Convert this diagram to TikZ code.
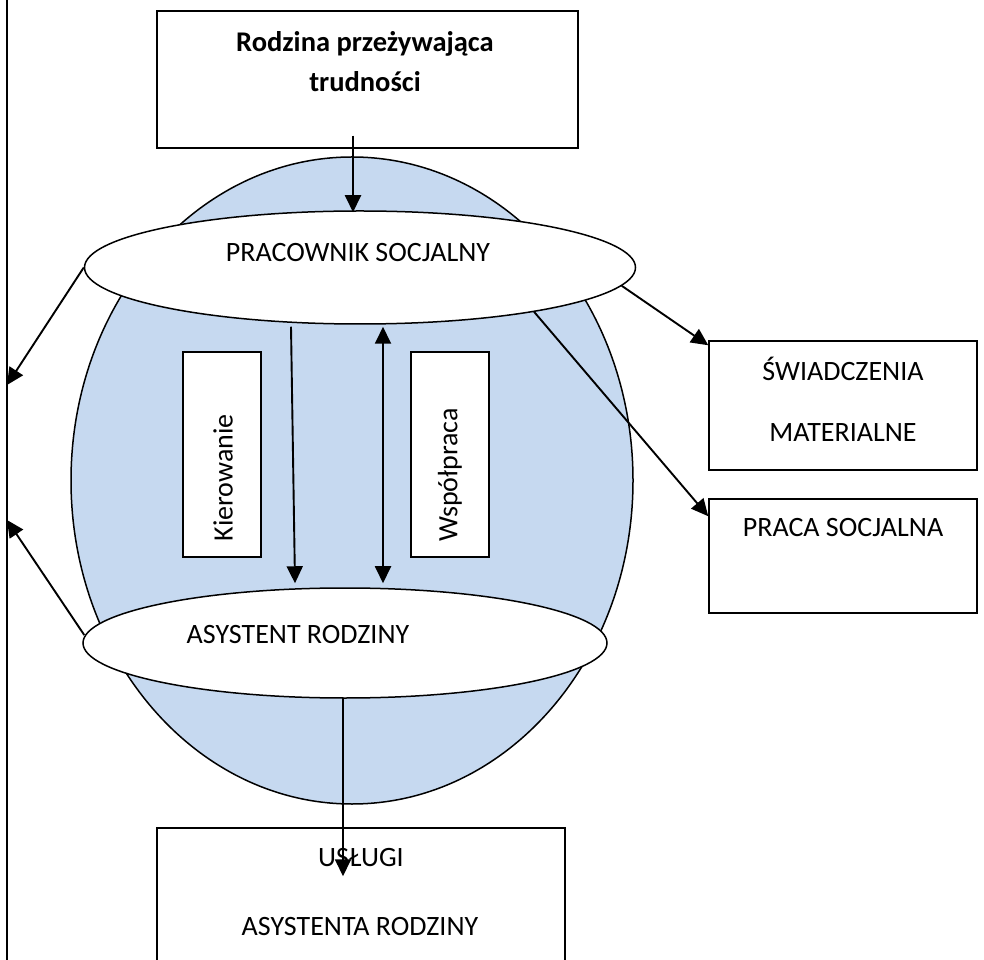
\documentclass[tikz,border=0pt]{standalone}
\usepackage{fontspec}
\setmainfont{Carlito}
\usetikzlibrary{arrows.meta,calc,shapes.geometric}
\definecolor{circblue}{RGB}{198,217,240}
\begin{document}
\begin{tikzpicture}[x=1pt,y=1pt,
  plain/.style={line width=1.6pt},
  arr/.style={line width=1.9pt,-{Triangle[length=17pt,width=16pt]}},
  darr/.style={line width=1.9pt,{Triangle[length=17pt,width=16pt]}-{Triangle[length=17pt,width=16pt]}},
  boxn/.style={draw,line width=1.5pt,fill=white,inner sep=0pt},
  ell/.style={draw,ellipse,line width=1.5pt,fill=white,inner sep=0pt},
  txt/.style={font=\fontsize{28}{33}\selectfont,inner sep=0pt}]
\useasboundingbox (0,0) rectangle (984,959);
% left vertical line
\coordinate (LT) at (7,962);
\coordinate (LB) at (7,-3);
\draw[plain] (LT) -- (LB);
% big circle
\node[ell, fill=circblue, minimum width=562, minimum height=647] (circ) at (352,478.5) {};
% top box
\node[boxn, minimum width=421, minimum height=137] (rodzina) at (367.5,879.5) {};
\node[txt, font=\fontsize{28.5}{40}\selectfont\bfseries, align=center] (rodzinat) at (365,897) {Rodzina przeżywająca\\trudności};
% ellipses
\node[ell, minimum width=551, minimum height=113] (pracownik) at (360,691.5) {};
\node[txt] (pracownikt) at (358,706) {PRACOWNIK SOCJALNY};
\node[ell, minimum width=524, minimum height=110] (asystent) at (345,316) {};
\node[txt] (asystentt) at (298,324) {ASYSTENT RODZINY};
% inner boxes
\node[boxn, minimum width=78, minimum height=205] (kier) at (222,504.5) {};
\node[txt, rotate=90] (kiert) at (223,481) {Kierowanie};
\node[boxn, minimum width=78, minimum height=205] (wsp) at (450,504.5) {};
\node[txt, rotate=90] (wspt) at (450,484) {Współpraca};
% right boxes
\node[boxn, minimum width=268, minimum height=129] (swiad) at (843,553.5) {};
\node[txt] (swiad1) at (843,590) {ŚWIADCZENIA};
\node[txt] (swiad2) at (843,526) {MATERIALNE};
\node[boxn, minimum width=268, minimum height=114] (praca) at (843,403) {};
\node[txt] (pracat) at (843,431) {PRACA SOCJALNA};
% bottom box
\node[boxn, minimum width=408, minimum height=151] (uslugi) at (361,55.5) {};
\node[txt] (uslugi1) at (361,101) {USŁUGI};
\node[txt] (uslugi2) at (360,32) {ASYSTENTA RODZINY};
% arrows
\coordinate (L1) at (7,574);
\coordinate (L2) at (7,439);
\draw[arr] ($(rodzina.south)+(-14.5,13)$) -- ($(pracownik.north)+(-7,-2)$);
\draw[arr] ($(pracownik.south)+(-69,-2)$) -- ($(asystent.north)+(-50,4)$);
\draw[darr] ($(pracownik.south)+(23,-2)$) -- ($(asystent.north)+(38,4)$);
\draw[arr] (pracownik.west) -- (L1);
\draw[arr] ($(asystent.west)+(2,8)$) -- (L2);
\draw[arr] (pracownik.356) -- ($(swiad.north west)+(0,-5)$);
\draw[arr] ($(pracownik.south)+(174,13)$) -- ($(praca.north west)+(0,-18)$);
\draw[arr] ($(asystent.south)+(-2,1)$) -- ($(uslugi.north)+(-18,-49)$);
\end{tikzpicture}
\end{document}
